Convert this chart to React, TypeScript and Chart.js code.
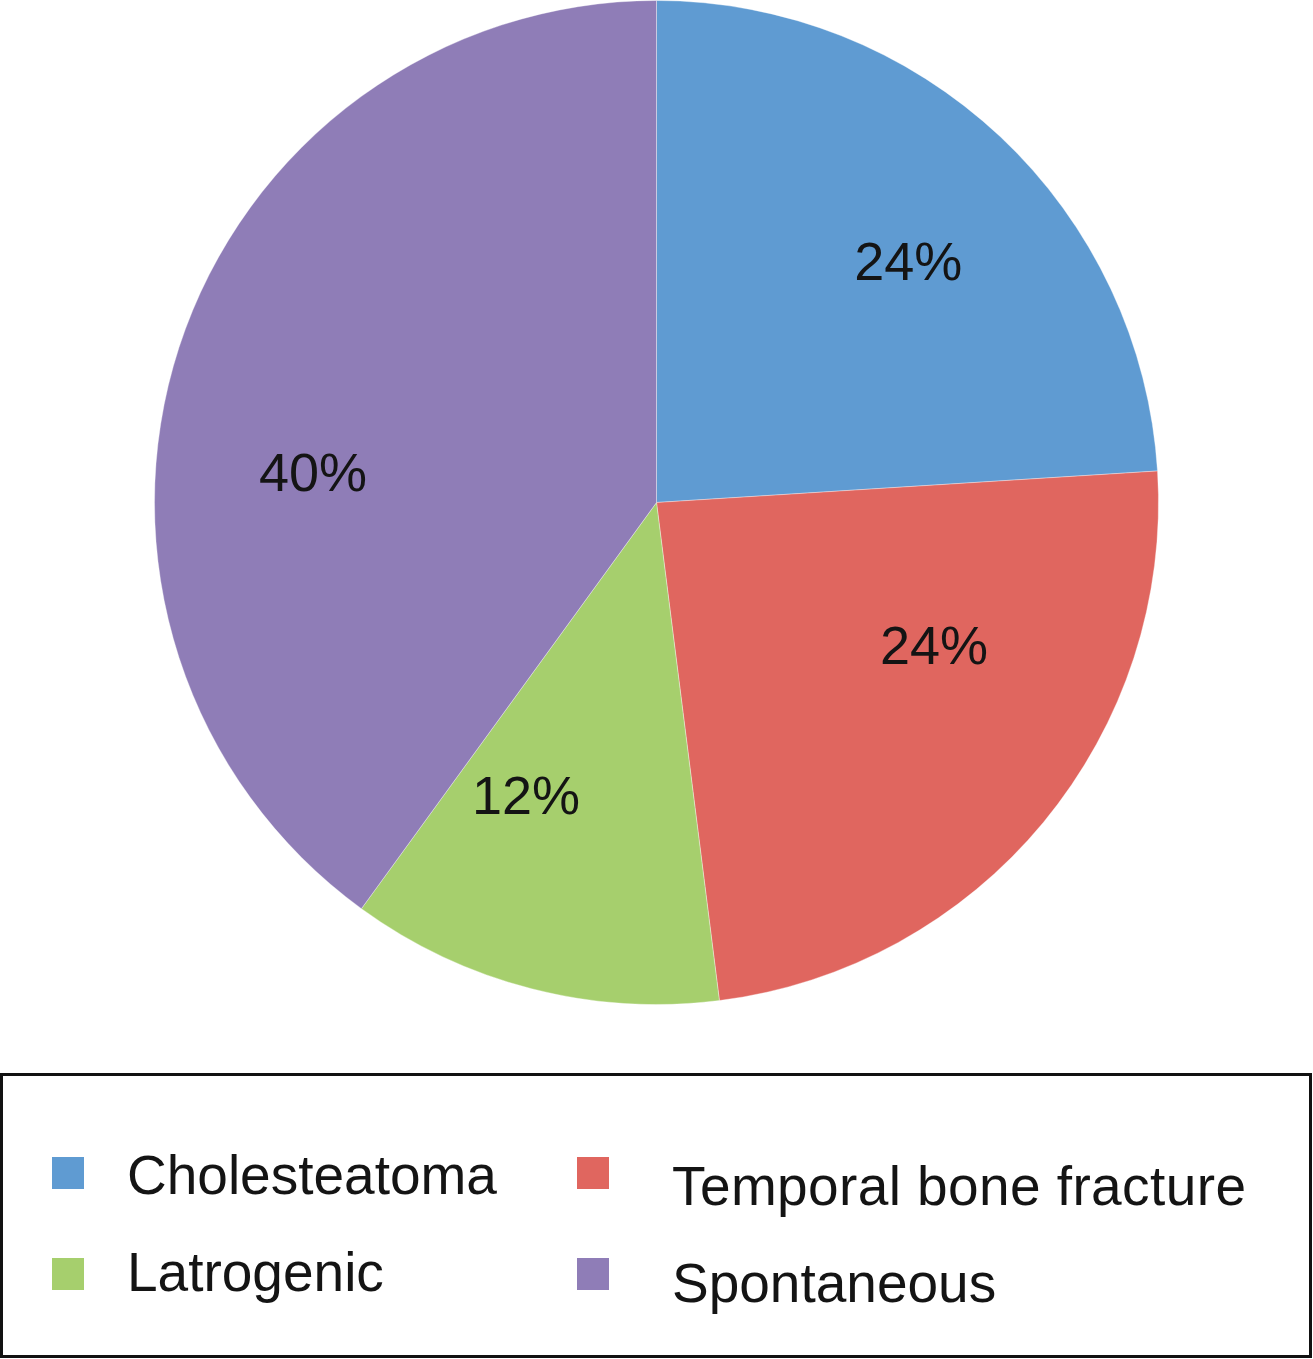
import React, { useEffect, useRef } from "react";
import { Chart, registerables } from "chart.js";

Chart.register(...registerables);

const categories: string[] = ["Cholesteatoma", "Temporal bone fracture", "Latrogenic", "Spontaneous"];
const values: number[] = [24, 24, 12, 40];
const colors: string[] = ["#5F9BD2", "#E0665F", "#A6CF6D", "#8F7DB7"];

const FONT = '"Liberation Sans", Arial, Helvetica, sans-serif';

// Label placement (Excel "best fit" style): angular nudge in degrees and radius factor per slice
const labelAngleShift: number[] = [3, -12.5, 9.7, -12.8];
const labelRadiusFactor: number[] = [0.695, 0.621, 0.637, 0.687];

const percentLabels = {
  id: "percentLabels",
  afterDatasetsDraw(chart: any) {
    const { ctx } = chart;
    const meta = chart.getDatasetMeta(0);
    const data = chart.data.datasets[0].data as number[];
    const total = data.reduce((a, b) => a + b, 0);
    const fontSize = 54;
    ctx.save();
    ctx.font = `${fontSize}px ${FONT}`;
    ctx.fillStyle = "#141414";
    ctx.textAlign = "center";
    ctx.textBaseline = "alphabetic";
    meta.data.forEach((arc: any, i: number) => {
      const { x, y, startAngle, endAngle, outerRadius } = arc.getProps(
        ["x", "y", "startAngle", "endAngle", "outerRadius"],
        true
      );
      const mid = (startAngle + endAngle) / 2 + (labelAngleShift[i] * Math.PI) / 180;
      const r = outerRadius * labelRadiusFactor[i];
      const pct = Math.round((data[i] / total) * 100);
      ctx.fillText(`${pct}%`, x + Math.cos(mid) * r, y + Math.sin(mid) * r + fontSize * 0.358);
    });
    ctx.restore();
  },
};

export default function App() {
  const canvasRef = useRef<HTMLCanvasElement | null>(null);

  useEffect(() => {
    document.body.style.margin = "0";
    const canvas = canvasRef.current;
    if (!canvas) return;
    const chart = new Chart(canvas, {
      type: "pie",
      data: {
        labels: categories,
        datasets: [
          {
            data: values,
            backgroundColor: colors,
            borderColor: "rgba(255,255,255,0.35)",
            borderWidth: 1,
          },
        ],
      },
      options: {
        responsive: false,
        animation: false,
        layout: { padding: 0 },
        plugins: {
          legend: { display: false },
          tooltip: { enabled: false },
        },
      },
      plugins: [percentLabels],
    });
    return () => chart.destroy();
  }, []);

  return (
    <div style={{ position: "relative", width: 1313, height: 1359, background: "#fff", fontFamily: FONT }}>
      <canvas ref={canvasRef} width={1313} height={1005} style={{ position: "absolute", left: 0, top: 0 }} />
      <div
        style={{
          position: "absolute",
          left: 0,
          top: 1073,
          width: 1312,
          height: 285,
          border: "3px solid #111",
          boxSizing: "border-box",
        }}
      >
        {categories.map((c, i) => {
          const col = i === 0 || i === 2 ? 0 : 1;
          const row = i < 2 ? 0 : 1;
          const sqLeft = col === 0 ? 49 : 574;
          const txtLeft = col === 0 ? 124 : 669;
          const sqTop = row === 0 ? 81 : 182;
          const txtCenter = (row === 0 ? 99 : 196) + (col === 1 ? 11 : 0);
          return (
            <React.Fragment key={c}>
              <div
                style={{
                  position: "absolute",
                  left: sqLeft,
                  top: sqTop,
                  width: 32,
                  height: 32,
                  background: colors[i],
                }}
              />
              <div
                style={{
                  position: "absolute",
                  left: txtLeft,
                  top: txtCenter - 32,
                  height: 64,
                  lineHeight: "64px",
                  fontSize: 55,
                  color: "#141414",
                  whiteSpace: "nowrap",
                  letterSpacing: c.length > 15 ? "0.4px" : "0px",
                }}
              >
                {c}
              </div>
            </React.Fragment>
          );
        })}
      </div>
    </div>
  );
}
